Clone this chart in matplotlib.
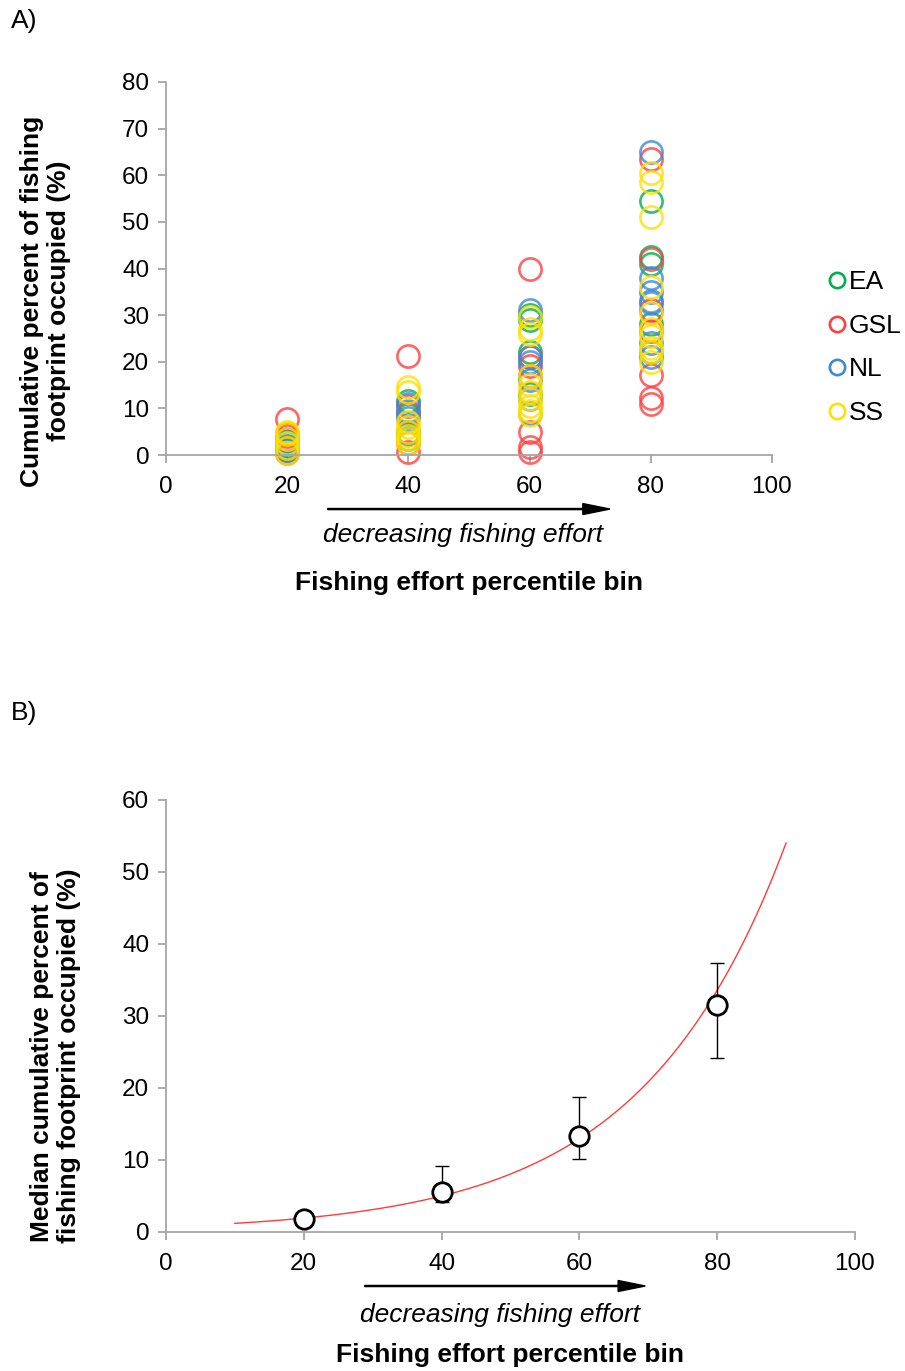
import numpy as np
import matplotlib
matplotlib.use("Agg")
import matplotlib.pyplot as plt
from matplotlib.lines import Line2D

plt.rcParams['font.family'] = ['Liberation Sans', 'DejaVu Sans']

# ---- Panel A: cumulative percent of footprint occupied, by region ----
bins = [20, 40, 60, 80]
regions = ["EA", "GSL", "NL", "SS"]
region_colors = {"EA": "#00b050", "GSL": "#ff4040", "NL": "#3d8ad6", "SS": "#ffe000"}

ea_vals = {20: [1, 2, 3, 4.5], 40: [11.5, 3.5, 5, 8.5],
           60: [30, 22, 13, 29], 80: [54.5, 42.5, 41, 28, 22]}
gsl_vals = {20: [7.8, 0.5, 1.5, 3.5, 4], 40: [21.3, 10.5, 0.7, 2.5, 9],
            60: [40, 19, 17, 5, 1.7, 0.7, 21], 80: [63.5, 42, 31, 26.5, 17.2, 12.2, 11]}
nl_vals = {20: [1, 2.5, 3], 40: [9.5, 8, 11, 4.5],
           60: [31, 21, 20, 9, 16, 12], 80: [65, 38, 33, 32.5, 21, 24, 35]}
ss_vals = {20: [0.5, 1.5, 2.5, 3.5, 4.5, 5], 40: [14.5, 13.5, 7, 6, 5, 4, 3.5, 2.5],
           60: [29.5, 27, 26, 17, 15, 13.5, 12, 10.5, 9.5, 8.5],
           80: [60.5, 58.5, 51, 36, 30.5, 27, 25.5, 23, 22, 20]}
region_data = {"EA": ea_vals, "GSL": gsl_vals, "NL": nl_vals, "SS": ss_vals}

# ---- Panel B: median with range and fitted exponential ----
median_x = [20, 40, 60, 80]
median_y = [1.8, 5.5, 13.3, 31.5]
err_low = [1.2, 4.2, 10.2, 24.1]
err_high = [2.4, 9.2, 18.7, 37.3]
fit_a, fit_b = 0.745, 0.0476
fit_range = (10, 90)

axis_gray = "#a6a6a6"
tick_fs = 17.5
label_fs = 19

fig = plt.figure(figsize=(9.05, 13.71), dpi=100)


def style_axes(ax):
    for s in ("top", "right"):
        ax.spines[s].set_visible(False)
    for s in ("left", "bottom"):
        ax.spines[s].set_color(axis_gray)
        ax.spines[s].set_linewidth(1.3)
    ax.tick_params(axis="both", colors=axis_gray, labelcolor="black",
                   labelsize=tick_fs, length=6, width=1.3, direction="out")
    ax.tick_params(axis="x", pad=9)
    ax.tick_params(axis="y", pad=6)


# Panel A
axA = fig.add_axes([0.1834, 0.6681, 0.6696, 0.2721])
for reg in regions:
    xs, ys = [], []
    for b in bins:
        for v in region_data[reg][b]:
            xs.append(b)
            ys.append(v)
    axA.plot(xs, ys, linestyle="none", marker="o", markersize=16,
             markerfacecolor="none", markeredgecolor=region_colors[reg],
             markeredgewidth=1.9, alpha=0.8, clip_on=False)
axA.set_xlim(0, 100)
axA.set_ylim(0, 80)
axA.set_xticks(range(0, 101, 20))
axA.set_yticks(range(0, 81, 10))
style_axes(axA)
axA.set_ylabel("Cumulative percent of fishing\nfootprint occupied (%)",
               fontsize=label_fs, fontweight="bold", linespacing=1.15)
axA.yaxis.set_label_coords(-0.157, 0.413)

handles = [Line2D([], [], linestyle="none", marker="o", markersize=11,
                  markerfacecolor="none", markeredgecolor=region_colors[r],
                  markeredgewidth=1.9) for r in regions]
fig.legend(handles, regions, loc="center left", bbox_to_anchor=(0.913, 0.7465),
           frameon=False, fontsize=label_fs, handletextpad=0.05, handlelength=0.8,
           labelspacing=0.74, borderaxespad=0, borderpad=0)

fig.text(0.012, 0.985, "A)", fontsize=label_fs, va="center", ha="left")
fig.text(0.012, 0.48, "B)", fontsize=label_fs, va="center", ha="left")

fig.patches.append(matplotlib.patches.FancyArrow(
    0.362, 0.6287, 0.312, 0, width=0.0008, head_width=0.008, head_length=0.03,
    length_includes_head=True, color="black", transform=fig.transFigure))
fig.text(0.512, 0.6095, "decreasing fishing effort", fontsize=label_fs, style="italic",
         ha="center", va="center")
fig.text(0.518, 0.5745, "Fishing effort percentile bin", fontsize=label_fs,
         fontweight="bold", ha="center", va="center")

# Panel B
axB = fig.add_axes([0.1834, 0.1014, 0.7613, 0.3151])
xf = np.linspace(fit_range[0], fit_range[1], 200)
axB.plot(xf, fit_a * np.exp(fit_b * xf), color="#ff3b3b", linewidth=1.0)
yerr = [np.array(median_y) - np.array(err_low), np.array(err_high) - np.array(median_y)]
axB.errorbar(median_x, median_y, yerr=yerr, fmt="none", ecolor="black",
             elinewidth=1.0, capsize=5, capthick=1.0)
axB.plot(median_x, median_y, linestyle="none", marker="o", markersize=14,
         markerfacecolor="white", markeredgecolor="black", markeredgewidth=2,
         clip_on=False)
axB.set_xlim(0, 100)
axB.set_ylim(0, 60)
axB.set_xticks(range(0, 101, 20))
axB.set_yticks(range(0, 61, 10))
style_axes(axB)
axB.set_ylabel("Median cumulative percent of\nfishing footprint occupied (%)",
               fontsize=label_fs, fontweight="bold", linespacing=1.15)
axB.yaxis.set_label_coords(-0.123, 0.407)

fig.patches.append(matplotlib.patches.FancyArrow(
    0.403, 0.062, 0.310, 0, width=0.0008, head_width=0.008, head_length=0.03,
    length_includes_head=True, color="black", transform=fig.transFigure))
fig.text(0.553, 0.0405, "decreasing fishing effort", fontsize=label_fs, style="italic",
         ha="center", va="center")
fig.text(0.563, 0.0115, "Fishing effort percentile bin", fontsize=label_fs,
         fontweight="bold", ha="center", va="center")

fig.savefig("out.png", dpi=100)
